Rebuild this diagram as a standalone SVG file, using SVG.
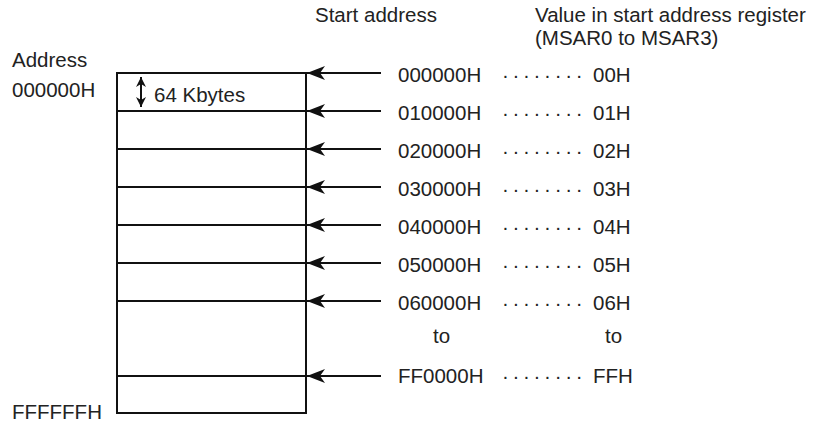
<svg xmlns="http://www.w3.org/2000/svg" width="819" height="423" viewBox="0 0 819 423">
<style>
text{font-family:"Liberation Sans",Arial,sans-serif;font-size:20.5px;fill:#222}
.dots{letter-spacing:3.7px}
.ln{stroke:#111;stroke-width:2;fill:none}
.ar{stroke:#111;stroke-width:2;fill:none;marker-end:url(#ah)}
</style>
<defs>
<marker id="ah" markerUnits="userSpaceOnUse" markerWidth="20" markerHeight="16" refX="18" refY="7" orient="auto">
<path d="M0,0 L18,7 L0,14 L5,7 Z" fill="#111"/>
</marker>
<marker id="sh" markerUnits="userSpaceOnUse" markerWidth="12" markerHeight="12" refX="10" refY="5" orient="auto-start-reverse">
<path d="M0,0 L10,5 L0,10 L3,5 Z" fill="#111"/>
</marker>
</defs>
<rect width="819" height="423" fill="#fff"/>
<text x="315" y="22">Start address</text>
<text x="535" y="22">Value in start address register</text>
<text x="535" y="45">(MSAR0 to MSAR3)</text>
<text x="12" y="67">Address</text>
<text x="12" y="97">000000H</text>
<text x="12" y="419">FFFFFFH</text>
<g id="memory">
<rect class="ln" x="117" y="73" width="189" height="340"/>
<path class="ln" d="M117,111H306M117,149H306M117,187H306M117,225H306M117,263H306M117,301H306M117,376H306"/>
<path class="ln" d="M141,77V107" marker-start="url(#sh)" marker-end="url(#sh)"/>
<text x="154" y="102">64 Kbytes</text>
</g>
<g id="connectors">
<path class="ar" d="M381,73H307"/>
<path class="ar" d="M381,111H307"/>
<path class="ar" d="M381,149H307"/>
<path class="ar" d="M381,187H307"/>
<path class="ar" d="M381,225H307"/>
<path class="ar" d="M381,263H307"/>
<path class="ar" d="M381,301H307"/>
<path class="ar" d="M381,376H307"/>
</g>
<g id="labels">
<text x="398" y="82">000000H</text><text class="dots" x="502" y="82">········</text><text x="593" y="82">00H</text>
<text x="398" y="120">010000H</text><text class="dots" x="502" y="120">········</text><text x="593" y="120">01H</text>
<text x="398" y="158">020000H</text><text class="dots" x="502" y="158">········</text><text x="593" y="158">02H</text>
<text x="398" y="196">030000H</text><text class="dots" x="502" y="196">········</text><text x="593" y="196">03H</text>
<text x="398" y="234">040000H</text><text class="dots" x="502" y="234">········</text><text x="593" y="234">04H</text>
<text x="398" y="272">050000H</text><text class="dots" x="502" y="272">········</text><text x="593" y="272">05H</text>
<text x="398" y="310">060000H</text><text class="dots" x="502" y="310">········</text><text x="593" y="310">06H</text>
<text x="433" y="343">to</text><text x="605" y="343">to</text>
<text x="398" y="383">FF0000H</text><text class="dots" x="502" y="383">········</text><text x="593" y="383">FFH</text>
</g>
</svg>
